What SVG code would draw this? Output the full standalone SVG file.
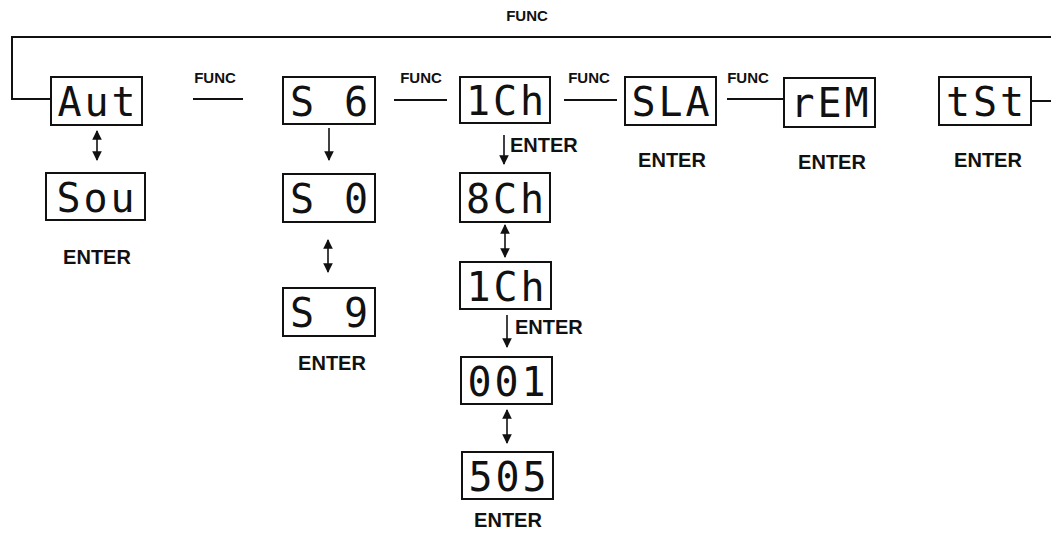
<svg xmlns="http://www.w3.org/2000/svg" width="1051" height="534" viewBox="0 0 1051 534">
<style>
.box{fill:#fff;stroke:#111;stroke-width:2}
.seg{font-family:"DejaVu Sans Mono","Liberation Mono",monospace;font-size:40px;fill:#111;text-anchor:middle;letter-spacing:3px}
.lbl{font-family:"Liberation Sans",Arial,sans-serif;font-weight:bold;fill:#111;text-anchor:middle}
.func{font-size:15px}
.ent{font-size:20px}
.ln{fill:none;stroke:#111;stroke-width:2}
.ar{fill:none;stroke:#111;stroke-width:1.6}
</style>
<defs>
<marker id="ah" viewBox="0 0 10 10" refX="9" refY="5" markerWidth="6" markerHeight="6" orient="auto-start-reverse" markerUnits="strokeWidth">
<path d="M0,0 L10,5 L0,10 Z" fill="#111"/>
</marker>
</defs>
<rect width="1051" height="534" fill="#fff"/>
<g id="connectors">
<path class="ln" d="M51 99 H12 V37 H1051"/>
<path class="ln" d="M193 99 H243"/>
<path class="ln" d="M394 100 H447"/>
<path class="ln" d="M564 100 H617"/>
<path class="ln" d="M727 99 H784"/>
<path class="ln" d="M1031 101 H1051"/>
<path class="ar" d="M97 131 V160" marker-start="url(#ah)" marker-end="url(#ah)"/>
<path class="ar" d="M329 128 V160" marker-end="url(#ah)"/>
<path class="ar" d="M328 240 V272" marker-start="url(#ah)" marker-end="url(#ah)"/>
<path class="ar" d="M504 135 V164" marker-end="url(#ah)"/>
<path class="ar" d="M505 225 V257" marker-start="url(#ah)" marker-end="url(#ah)"/>
<path class="ar" d="M507 315 V347" marker-end="url(#ah)"/>
<path class="ar" d="M507 410 V443" marker-start="url(#ah)" marker-end="url(#ah)"/>
<text class="lbl func" x="527" y="21">FUNC</text>
<text class="lbl func" x="215" y="83">FUNC</text>
<text class="lbl func" x="421" y="83">FUNC</text>
<text class="lbl func" x="589" y="83">FUNC</text>
<text class="lbl func" x="748" y="83">FUNC</text>
<text class="lbl ent" x="510" y="152" style="text-anchor:start">ENTER</text>
<text class="lbl ent" x="515" y="334" style="text-anchor:start">ENTER</text>
</g>
<g id="aut"><rect class="box" x="51" y="77" width="91" height="48"/><text class="seg" x="98" y="116">Aut</text></g>
<g id="sou"><rect class="box" x="46" y="173" width="99" height="47"/><text class="seg" x="97" y="212">Sou</text><text class="lbl ent" x="97" y="264">ENTER</text></g>
<g id="s6"><rect class="box" x="283" y="77" width="92" height="47"/><text class="seg" x="330.5" y="116">S 6</text></g>
<g id="s0"><rect class="box" x="283" y="174" width="92" height="48"/><text class="seg" x="330.5" y="213">S 0</text></g>
<g id="s9"><rect class="box" x="283" y="288" width="92" height="48"/><text class="seg" x="330.5" y="327">S 9</text><text class="lbl ent" x="332" y="370">ENTER</text></g>
<g id="ch1"><rect class="box" x="460" y="77" width="90" height="46"/><text class="seg" x="506.5" y="115">1Ch</text></g>
<g id="ch8"><rect class="box" x="460" y="173" width="90" height="49"/><text class="seg" x="506.5" y="213">8Ch</text></g>
<g id="ch1b"><rect class="box" x="460" y="262" width="91" height="47"/><text class="seg" x="507" y="301">1Ch</text></g>
<g id="addr001"><rect class="box" x="461" y="357" width="91" height="47"/><text class="seg" x="508" y="396">001</text></g>
<g id="addr505"><rect class="box" x="462" y="452" width="91" height="47"/><text class="seg" x="509" y="491">505</text><text class="lbl ent" x="508" y="527">ENTER</text></g>
<g id="sla"><rect class="box" x="625" y="77" width="91" height="48"/><text class="seg" x="672" y="116">SLA</text><text class="lbl ent" x="672" y="167">ENTER</text></g>
<g id="rem"><rect class="box" x="784" y="78" width="91" height="49"/><text class="seg" x="831" y="117">rEM</text><text class="lbl ent" x="832" y="169">ENTER</text></g>
<g id="tst"><rect class="box" x="939" y="77" width="92" height="48"/><text class="seg" x="986.5" y="116">tSt</text><text class="lbl ent" x="988" y="167">ENTER</text></g>
</svg>
